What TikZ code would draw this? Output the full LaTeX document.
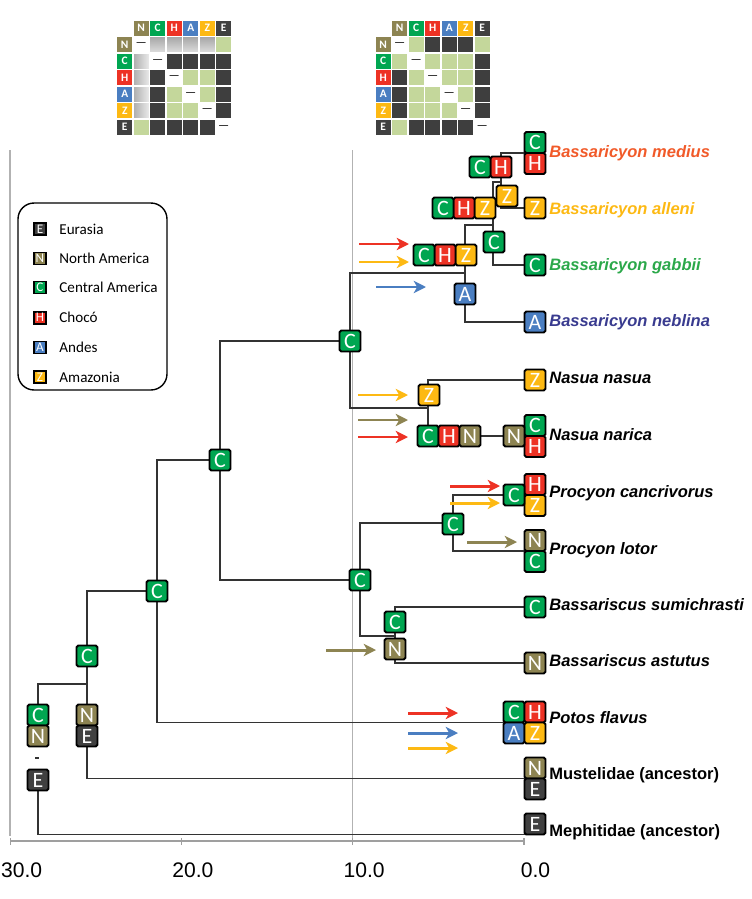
\documentclass[tikz,border=0pt]{standalone}
\usepackage{fontspec}
\setmainfont{Liberation Sans}
\newfontfamily\boxfont{Carlito}
\usetikzlibrary{arrows.meta,positioning,backgrounds}

\definecolor{colN}{RGB}{141,132,82}
\definecolor{colC}{RGB}{0,166,81}
\definecolor{colH}{RGB}{237,50,36}
\definecolor{colA}{RGB}{74,126,193}
\definecolor{colZ}{RGB}{253,185,19}
\definecolor{colE}{RGB}{64,64,64}
\definecolor{pgreen}{RGB}{196,215,155}
\definecolor{dgray}{RGB}{62,62,62}
\definecolor{sgray}{RGB}{190,190,190}
\definecolor{txtmed}{RGB}{241,90,41}
\definecolor{txtgab}{RGB}{43,168,74}
\definecolor{txtneb}{RGB}{57,59,143}

\tikzset{
  %Define standard arrow tip
    >={Stealth[length=7pt,width=7pt,inset=2pt]},
  %define style for area boxes
  regbox/.style={
    rectangle,
    rounded corners=1pt,
    draw=black, line width=1.1pt,
    minimum size=0.42cm,
    inner sep=0pt, outer sep=0pt,
    text=white,
    font=\boxfont\fontsize{12.5}{12.5}\selectfont},
  regN/.style={regbox, fill=colN},
  regC/.style={regbox, fill=colC},
  regH/.style={regbox, fill=colH},
  regA/.style={regbox, fill=colA},
  regZ/.style={regbox, fill=colZ},
  regE/.style={regbox, fill=colE},
  %define style for legend
  legbox/.style={
    rectangle,
    draw=black, line width=0.9pt,
    minimum size=0.24cm,
    inner sep=0pt,
    text=white,
    font=\boxfont\fontsize{7.5}{7.5}\selectfont},
  legtext/.style={
    inner sep=0pt,
    font=\boxfont\fontsize{8.6}{10}\selectfont},
  %define style for taxon names
  taxon/.style={
    anchor=base west,
    inner sep=0pt,
    font=\fontsize{9.4}{11}\selectfont\bfseries\itshape},
  outgroup/.style={taxon, font=\fontsize{9.4}{11}\selectfont\bfseries},
  %define style for branches
  treeline/.style={draw=black!80, line width=0.85pt},
  %define style for dispersal arrows
  disp/.style={->, line width=1.7pt},
  %define style for matrix cells
  mhead/.style={
    rectangle,
    draw=white, line width=0.6pt,
    minimum size=0.33cm,
    inner sep=0pt, outer sep=0pt,
    text=white,
    font=\boxfont\bfseries\fontsize{6.5}{6.5}\selectfont},
  mcell/.style={draw=white, line width=0.6pt}
}

\begin{document}
\begin{tikzpicture}[x=0.02cm, y=-0.02cm]
\useasboundingbox (0,0) rectangle (751,899);

%matrices
\foreach \r/\cells in {1/{white,sgray,sgray,sgray,sgray,pgreen},
                       2/{sgray,white,dgray,dgray,dgray,dgray},
                       3/{sgray,dgray,white,pgreen,pgreen,dgray},
                       4/{sgray,dgray,pgreen,white,pgreen,dgray},
                       5/{sgray,dgray,pgreen,pgreen,white,dgray},
                       6/{pgreen,dgray,dgray,dgray,dgray,white}}{
  \foreach \c [count=\j] in \cells
    \path[mcell, fill=\c] (116.5+16.5*\j, 20+16.5*\r) rectangle ++(16.5,16.5);
}
\foreach \j in {2,...,5}{
  \shade[mcell, top color=gray!70, bottom color=gray!25] (116.5+16.5*\j, 36.5) rectangle ++(16.5,16.5);
  \shade[mcell, left color=gray!65, right color=gray!15] (133, 20+16.5*\j) rectangle ++(16.5,16.5);
}
\foreach \r/\cells in {1/{white,pgreen,dgray,dgray,dgray,pgreen},
                       2/{pgreen,white,pgreen,pgreen,pgreen,dgray},
                       3/{dgray,pgreen,white,pgreen,pgreen,dgray},
                       4/{dgray,pgreen,pgreen,white,pgreen,dgray},
                       5/{dgray,pgreen,pgreen,pgreen,white,dgray},
                       6/{pgreen,dgray,dgray,dgray,dgray,white}}{
  \foreach \c [count=\j] in \cells
    \path[mcell, fill=\c] (375+16.5*\j, 20+16.5*\r) rectangle ++(16.5,16.5);
}
\foreach \xo/\mat in {116.5/mone, 375/mtwo}{
  \foreach \l [count=\i] in {N,C,H,A,Z,E}{
    \node[mhead, fill=col\l] (\mat col\l) at (\xo+16.5*\i+8.25, 28.25) {\l};
    \node[mhead, fill=col\l] (\mat row\l) at (\xo+8.25, 28.25+16.5*\i) {\l};
    \node[inner sep=0pt, font=\boxfont\fontsize{7}{7}\selectfont] (\mat dia\l)
         at (\xo+16.5*\i+8.25, 28.25+16.5*\i) {—};
  }
}

%legend
\node[draw, line width=0.8pt, rounded corners=0.32cm, minimum width=2.98cm,
      minimum height=3.74cm] (legend) at (92.5,296.5) {};
\node[legbox, fill=colE] (legE) at (40,229) {E};
\node[legbox, fill=colN, below=0.32cm of legE] (legN) {N};
\node[legbox, fill=colC, below=0.31cm of legN] (legC) {C};
\node[legbox, fill=colH, below=0.33cm of legC] (legH) {H};
\node[legbox, fill=colA, below=0.32cm of legH] (legA) {A};
\node[legbox, fill=colZ, below=0.32cm of legA] (legZ) {Z};
\node[legtext, right=7pt of legE] {Eurasia};
\node[legtext, right=7pt of legN] {North America};
\node[legtext, right=7pt of legC] {Central America};
\node[legtext, right=7pt of legH] {Chocó};
\node[legtext, right=7pt of legA] {Andes};
\node[legtext, right=7pt of legZ] {Amazonia};

%ancestral areas
\node[regE] (rtE) at (38,780) {E};
\node[regC] (rtC) at (38,715) {C};
\node[regN, below=0pt of rtC] (rtN) {N};
\node[regC] (kC) at (87,656) {C};
\node[regN] (kN) at (87,715) {N};
\node[regE, below=0pt of kN] (kE) {E};
\node[regC] (pC) at (157,591) {C};
\node[regC] (qC) at (220,460) {C};
\node[regC] (sC) at (350,341) {C};
\node[regC] (tC) at (360,580) {C};
\node[regZ] (b1Z) at (466,255) {Z};
\node[regH, left=0pt of b1Z] (b1H) {H};
\node[regC, left=0pt of b1H] (b1C) {C};
\node[regA] (b1A) at (465,294) {A};
\node[regZ] (b2Z) at (485,208) {Z};
\node[regH, left=0pt of b2Z] (b2H) {H};
\node[regC, left=0pt of b2H] (b2C) {C};
\node[regC] (b2Cg) at (494,242) {C};
\node[regH] (b3H) at (501,167) {H};
\node[regC, left=0pt of b3H] (b3C) {C};
\node[regZ] (b3Z) at (507,196) {Z};
\node[regZ] (nasZ) at (429,395) {Z};
\node[regC] (nasC) at (428,436) {C};
\node[regH, right=0pt of nasC] (nasH) {H};
\node[regN, right=0pt of nasH] (nasN) {N};
\node[regC] (proC) at (453,524) {C};
\node[regC] (bscC) at (395,622) {C};
\node[regN] (bscN) at (395,649) {N};

%tip areas
\node[regC] (medC) at (535,142.5) {C};
\node[regH, below=0pt of medC] (medH) {H};
\node[regZ] (allZ) at (535,208) {Z};
\node[regC] (gabC) at (535,265) {C};
\node[regA] (nebA) at (535,322) {A};
\node[regZ] (nsuZ) at (535,380) {Z};
\node[regC] (narC) at (535,425.5) {C};
\node[regH, below=0pt of narC] (narH) {H};
\node[regN] (narN) at (514,436) {N};
\node[regH] (canH) at (535,484.5) {H};
\node[regZ, below=0pt of canH] (canZ) {Z};
\node[regC] (canC) at (514,495) {C};
\node[regN] (lotN) at (535,540.5) {N};
\node[regC, below=0pt of lotN] (lotC) {C};
\node[regC] (sumC) at (535,607) {C};
\node[regN] (astN) at (535,663) {N};
\node[regC] (potC) at (514,712) {C};
\node[regH, right=0pt of potC] (potH) {H};
\node[regA, below=0pt of potC] (potA) {A};
\node[regZ, right=0pt of potA] (potZ) {Z};
\node[regN] (musN) at (535,768) {N};
\node[regE, below=0pt of musN] (musE) {E};
\node[regE] (mepE) at (535,824) {E};

%taxa
\node[taxon, text=txtmed] (lMed) at (549,157) {Bassaricyon medius};
\node[taxon, text=colZ] (lAll) at (549,214) {Bassaricyon alleni};
\node[taxon, text=txtgab] (lGab) at (549,270) {Bassaricyon gabbii};
\node[taxon, text=txtneb] (lNeb) at (549,326) {Bassaricyon neblina};
\node[taxon] (lNsu) at (549,383) {Nasua nasua};
\node[taxon] (lNar) at (549,440) {Nasua narica};
\node[taxon] (lCan) at (549,497) {Procyon cancrivorus};
\node[taxon] (lLot) at (549,554) {Procyon lotor};
\node[taxon] (lSum) at (549,610) {Bassariscus sumichrasti};
\node[taxon] (lAst) at (549,666) {Bassariscus astutus};
\node[taxon] (lPot) at (549,723) {Potos flavus};
\node[outgroup] (lMus) at (549,779) {Mustelidae (ancestor)};
\node[outgroup] (lMep) at (549,836) {Mephitidae (ancestor)};

%time axis
\draw[gray!75, line width=0.6pt] (10,841) -- (524,841);
\foreach \t in {0,10,20,30}{
  \draw[gray!75, line width=0.6pt] (524-17.13*\t,838) -- ++(0,7);
  \node[anchor=base, inner sep=0pt, font=\fontsize{12}{12}\selectfont] (ax\t)
       at (535.5-17.13*\t,877) {\t.0};
}

%dispersals
\draw[disp, colH] (359,244) -- ++(50,0);
\draw[disp, colZ] (359,262) -- ++(50,0);
\draw[disp, colA] (376,287) -- ++(50,0);
\draw[disp, colZ] (358,395) -- ++(50,0);
\draw[disp, colN] (358,420) -- ++(50,0);
\draw[disp, colH] (358,437) -- ++(50,0);
\draw[disp, colH] (450,486) -- ++(50,0);
\draw[disp, colZ] (450,503) -- ++(50,0);
\draw[disp, colN] (467,542) -- ++(50,0);
\draw[disp, colN] (326,650) -- ++(50,0);
\draw[disp, colH] (408,713) -- ++(50,0);
\draw[disp, colA] (408,733) -- ++(50,0);
\draw[disp, colZ] (408,748) -- ++(50,0);

%branches
\coordinate (jMust) at (87,684);
\coordinate (jProc) at (157,591);
\coordinate (jCrown) at (220,460);
\coordinate (jBN) at (350,341);
\coordinate (jPB) at (360,580);
\coordinate (jBas1) at (465,273);
\coordinate (jBas2) at (493,225);
\coordinate (jBas3) at (501,182);
\coordinate (jNas) at (428,408);
\coordinate (jPro) at (453,523);
\coordinate (jBsc) at (395,636);
\begin{scope}[on background layer]
\draw[gray!60, line width=0.6pt] (10,150) -- (10,836);
\draw[gray!60, line width=0.6pt] (352.7,150) -- (352.7,841);
\draw[treeline] (rtC.north) |- (jMust);
\draw[treeline] (rtE.south) |- (mepE.south west);
\draw[treeline] (35,758) -- (38.5,758);
\draw[treeline] (jMust) |- (jProc);
\draw[treeline] (jMust) |- (musN.south west);
\draw[treeline] (jProc) |- (jCrown);
\draw[treeline] (jProc) |- (potC.south west);
\draw[treeline] (jCrown) |- (jBN);
\draw[treeline] (jCrown) |- (jPB);
\draw[treeline] (jBN) |- (jBas1);
\draw[treeline] (jBN) |- (jNas);
\draw[treeline] (jBas1) |- (jBas2);
\draw[treeline] (jBas1) |- (nebA.west);
\draw[treeline] (jBas2) |- (jBas3);
\draw[treeline] (jBas2) |- (gabC.west);
\draw[treeline] (jBas3) |- (medC.south west);
\draw[treeline] (jBas3) |- (allZ.west);
\draw[treeline] (jNas) |- (nsuZ.west);
\draw[treeline] (jNas) |- (narN.west);
\draw[treeline] (jPB) |- (jPro);
\draw[treeline] (jPB) |- (jBsc);
\draw[treeline] (jPro) |- (canC.west);
\draw[treeline] (jPro) |- (lotN.south west);
\draw[treeline] (jBsc) |- (sumC.west);
\draw[treeline] (jBsc) |- (astN.west);
\end{scope}

\end{tikzpicture}
\end{document}
